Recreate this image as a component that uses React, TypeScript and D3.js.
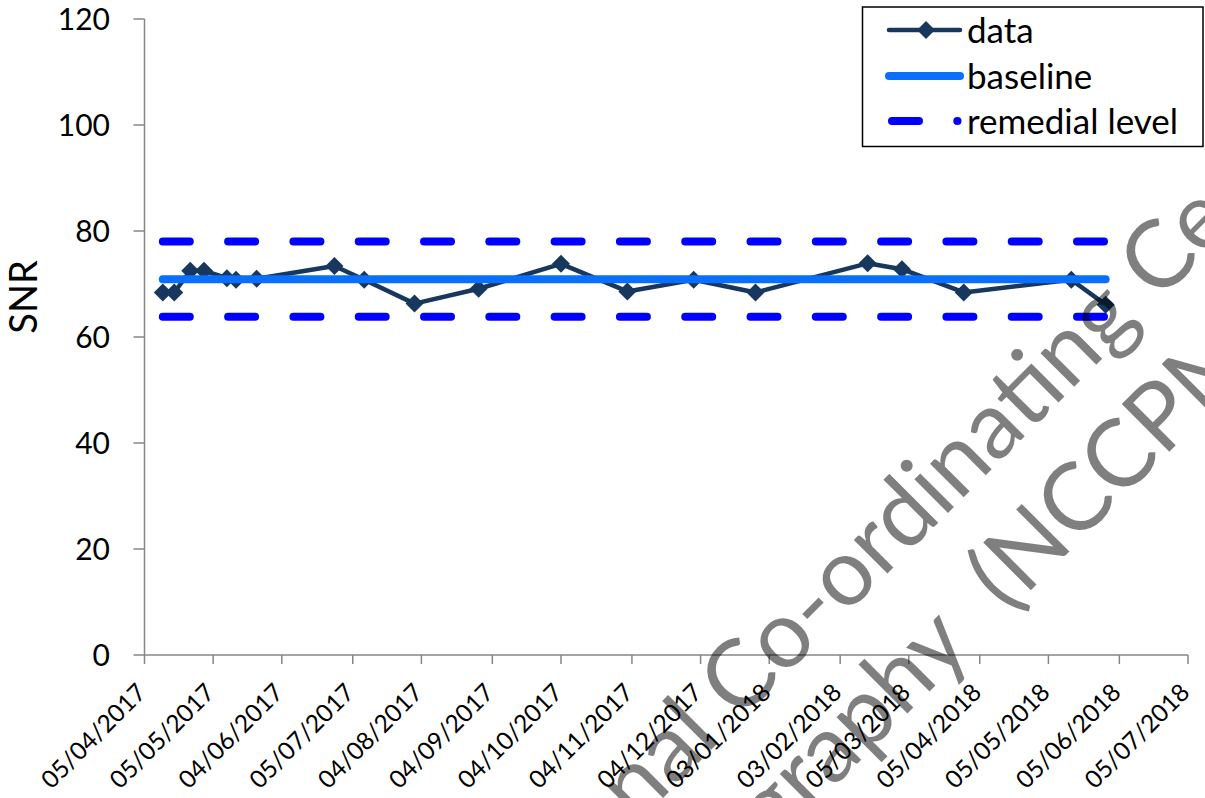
import React from "react";
import * as d3 from "d3";

// Measurement dates and signal-to-noise readings
const sampleDates = [
  "2017-04-13", "2017-04-18", "2017-04-25", "2017-05-01", "2017-05-11",
  "2017-05-15", "2017-05-24", "2017-06-27", "2017-07-10", "2017-08-01",
  "2017-08-29", "2017-10-04", "2017-11-02", "2017-12-01", "2017-12-28",
  "2018-02-15", "2018-03-02", "2018-03-29", "2018-05-15", "2018-05-30",
];
const snrValues = [
  68.4, 68.4, 72.5, 72.5, 71.1,
  70.8, 71.0, 73.4, 70.8, 66.3,
  69.1, 73.8, 68.6, 70.8, 68.4,
  73.9, 72.8, 68.4, 70.8, 66.1,
];

// Reference levels
const baselineValue = 70.9;
const remedialLevels = [63.8, 78.0];

// Axis ticks
const xTickDates = [
  "2017-04-05", "2017-05-05", "2017-06-04", "2017-07-05", "2017-08-04",
  "2017-09-04", "2017-10-04", "2017-11-04", "2017-12-04", "2018-01-03",
  "2018-02-03", "2018-03-05", "2018-04-05", "2018-05-05", "2018-06-05",
  "2018-07-05",
];
const yTickValues = [0, 20, 40, 60, 80, 100, 120];
const yAxisTitle = "SNR";
const legendLabels = ["data", "baseline", "remedial level"];
const watermarkLines: [string, string][] = [
  ["National\u00A0", "Co-ordinating Centre"],
  ["for the Physics of Mammography\u00A0", "(NCCPM)"],
];

const W = 1205;
const H = 798;
const FONT = "Lato, 'Open Sans', sans-serif";
const DATA_COLOR = "#17375E";
const BASE_COLOR = "#0A6EFF";
const REMEDIAL_COLOR = "#0000FF";
const AXIS_COLOR = "#868686";
const DASH = "27 38.3";

export default function App() {
  const parse = d3.timeParse("%Y-%m-%d");
  const fmt = d3.timeFormat("%d/%m/%Y");

  const x = d3
    .scaleTime()
    .domain([parse(xTickDates[0])!, parse(xTickDates[xTickDates.length - 1])!])
    .range([144.5, 1188]);
  const y = d3.scaleLinear().domain([0, 120]).range([655, 19]);

  const points = sampleDates.map((d, i) => ({ date: parse(d)!, value: snrValues[i] }));
  const line = d3
    .line<{ date: Date; value: number }>()
    .x((d) => x(d.date))
    .y((d) => y(d.value));

  const xStart = x(points[0].date);
  const xEnd = x(points[points.length - 1].date);

  const diamond = (cx: number, cy: number, r: number) =>
    `M${cx},${cy - r}L${cx + r},${cy}L${cx},${cy + r}L${cx - r},${cy}Z`;

  const [x0, x1] = x.range();
  const [yBottom, yTop] = y.range();

  // Legend geometry
  const legX = 862.5;
  const legY = 7;
  const legRows = [30, 76, 121];
  const sampleX0 = 892;
  const sampleX1 = 957.5;
  const textX = 967;

  // Watermark line anchors and the gap before the second part of each line
  const wmAnchors: [number, number][] = [
    [739, 722],
    [1007, 614],
  ];
  const wmLeadGap = [0, 26];

  return (
    <svg
      width={W}
      height={H}
      viewBox={`0 0 ${W} ${H}`}
      style={{ position: "absolute", left: 0, top: 0, overflow: "hidden", background: "#fff" }}
      fontFamily={FONT}
    >
      <rect x={0} y={0} width={W} height={H} fill="#fff" />

      {/* Axes */}
      <line x1={x0} x2={x0} y1={yTop} y2={yBottom} stroke={AXIS_COLOR} strokeWidth={1.5} />
      <line x1={x0} x2={x1} y1={yBottom} y2={yBottom} stroke={AXIS_COLOR} strokeWidth={1.5} />
      {yTickValues.map((v) => (
        <g key={`y${v}`}>
          <line x1={x0 - 11} x2={x0} y1={y(v)} y2={y(v)} stroke={AXIS_COLOR} strokeWidth={1.5} />
          <text x={110} y={y(v)} dy="0.36em" textAnchor="end" fontSize={30} fill="#000">
            {v}
          </text>
        </g>
      ))}
      {xTickDates.map((d) => {
        const tx = x(parse(d)!);
        return (
          <g key={`x${d}`}>
            <line x1={tx} x2={tx} y1={yBottom} y2={yBottom + 9} stroke={AXIS_COLOR} strokeWidth={1.5} />
            <text
              x={tx + 3}
              y={694}
              textAnchor="end"
              fontSize={24.5}
              fill="#000"
              transform={`rotate(-45 ${tx + 3} 694)`}
            >
              {fmt(parse(d)!)}
            </text>
          </g>
        );
      })}
      <text
        x={23}
        y={297}
        textAnchor="middle"
        dy="0.36em"
        fontSize={38}
        fill="#000"
        transform="rotate(-90 23 297)"
      >
        {yAxisTitle}
      </text>

      {/* Remedial levels */}
      {remedialLevels.map((lv) => (
        <line
          key={`r${lv}`}
          x1={xStart}
          x2={xEnd}
          y1={y(lv)}
          y2={y(lv)}
          stroke={REMEDIAL_COLOR}
          strokeWidth={8}
          strokeLinecap="round"
          strokeDasharray={DASH}
        />
      ))}

      {/* Data series */}
      <path
        d={line(points) ?? ""}
        fill="none"
        stroke={DATA_COLOR}
        strokeWidth={4.5}
        strokeLinejoin="round"
      />
      {points.map((p, i) => (
        <path key={`m${i}`} d={diamond(x(p.date), y(p.value), 9)} fill={DATA_COLOR} />
      ))}

      {/* Baseline */}
      <line
        x1={xStart}
        x2={xEnd}
        y1={y(baselineValue)}
        y2={y(baselineValue)}
        stroke={BASE_COLOR}
        strokeWidth={8}
        strokeLinecap="round"
      />

      {/* Legend */}
      <rect x={legX} y={legY} width={340.5} height={139.5} fill="#fff" stroke="#000" strokeWidth={1.5} />
      <line x1={889} x2={960} y1={legRows[0]} y2={legRows[0]} stroke={DATA_COLOR} strokeWidth={4.5} strokeLinecap="round" />
      <path d={diamond(926, legRows[0], 9)} fill={DATA_COLOR} />
      <line x1={889} x2={960} y1={legRows[1]} y2={legRows[1]} stroke={BASE_COLOR} strokeWidth={8} strokeLinecap="round" />
      <line
        x1={sampleX0}
        x2={sampleX1}
        y1={legRows[2]}
        y2={legRows[2]}
        stroke={REMEDIAL_COLOR}
        strokeWidth={8}
        strokeLinecap="round"
        strokeDasharray={DASH}
      />
      {legendLabels.map((t, i) => (
        <text key={t} x={textX} y={legRows[i]} dy="0.36em" fontSize={35} fill="#000">
          {t}
        </text>
      ))}

      {/* Watermark */}
      <g fill="#000" fillOpacity={0.5} fontSize={94} style={{ whiteSpace: "pre" }}>
        {watermarkLines.map(([lead, tail], i) => (
          <g key={`wm${i}`} transform={`translate(${wmAnchors[i][0]} ${wmAnchors[i][1]}) rotate(-45)`}>
            <text x={-wmLeadGap[i]} y={0} textAnchor="end">{lead}</text>
            <text x={0} y={0} textAnchor="start">{tail}</text>
          </g>
        ))}
      </g>
    </svg>
  );
}
